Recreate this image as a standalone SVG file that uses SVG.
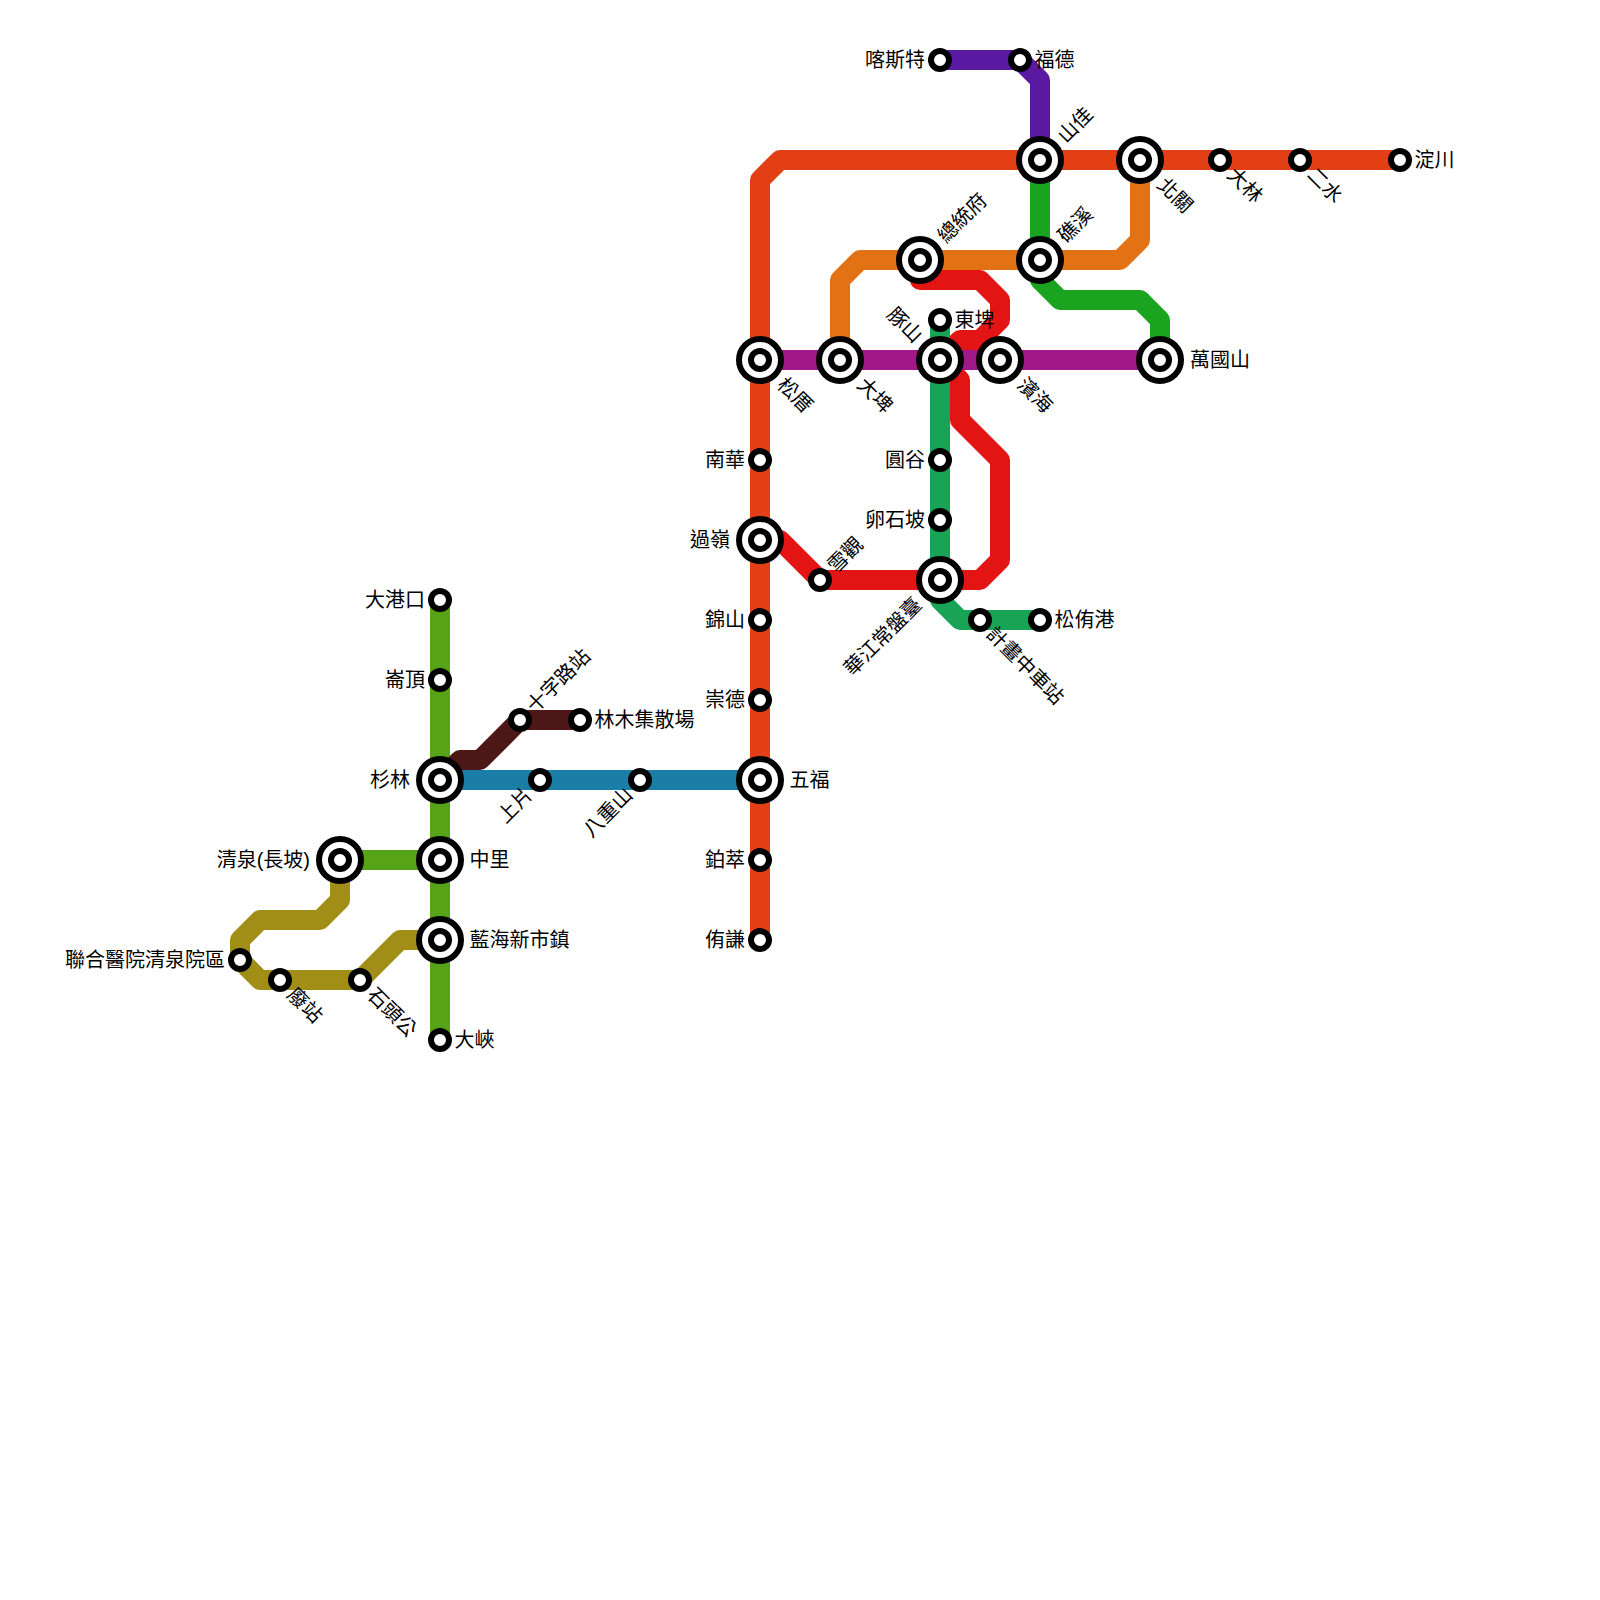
<svg xmlns="http://www.w3.org/2000/svg" width="1600" height="1600" viewBox="0 0 1600 1600">
<style>
.l{fill:none;stroke-width:20;stroke-linejoin:round;stroke-linecap:butt}
.o{fill:#fff;stroke:#000;stroke-width:6}
text{font-family:"Liberation Sans","Noto Sans CJK TC",sans-serif;font-size:20px;fill:#000;dominant-baseline:central}
.e{text-anchor:end}
</style>
<defs>
<g id="s"><circle class="o" r="9"/></g>
<g id="x"><circle class="o" r="21"/><circle class="o" r="9"/></g>
</defs>
<rect width="1600" height="1600" fill="#fff"/>
<g id="connectors">
<path class="l" stroke="#e31414" d="M760 540H780L820 580H980L1000 560V460L960 420V380L940 360L960 340H980L1000 320V300L980 280H920V260"/>
<path class="l" stroke="#e37214" d="M1140 160V240L1120 260H860L840 280V360"/>
<path class="l" stroke="#19a31e" d="M1040 160V280L1060 300H1140L1160 320V360"/>
<path class="l" stroke="#5a19a1" d="M940 60H1020L1040 80V160"/>
<path class="l" stroke="#e23f14" d="M1400 160H780L760 180V940"/>
<path class="l" stroke="#a01888" d="M760 360H1160"/>
<path class="l" stroke="#19a356" d="M940 320V600L960 620H1040"/>
<path class="l" stroke="#a18e17" d="M340 860V900L320 920H260L240 940V960L260 980H360L400 940H440"/>
<path class="l" stroke="#56a317" d="M440 600V1040M340 860H440"/>
<path class="l" stroke="#4d1717" d="M440 780L460 760H480L520 720H580"/>
<path class="l" stroke="#1a7ea6" d="M440 780H760"/>
</g>
<g id="n1"><use href="#s" x="940" y="60"/><text class="e" x="925" y="60">喀斯特</text></g>
<g id="n2"><use href="#s" x="1020" y="60"/><text x="1034.5" y="60">福德</text></g>
<g id="n3"><use href="#x" x="1040" y="160"/><text transform="translate(1061 139) rotate(-45)">山佳</text></g>
<g id="n4"><use href="#x" x="1140" y="160"/><text transform="translate(1161 181) rotate(45)">北關</text></g>
<g id="n5"><use href="#s" x="1220" y="160"/><text transform="translate(1231 171) rotate(45)">大林</text></g>
<g id="n6"><use href="#s" x="1300" y="160"/><text transform="translate(1311 171) rotate(45)">二水</text></g>
<g id="n7"><use href="#s" x="1400" y="160"/><text x="1414.5" y="160">淀川</text></g>
<g id="n8"><use href="#x" x="920" y="260"/><text transform="translate(941 239) rotate(-45)">總統府</text></g>
<g id="n9"><use href="#x" x="1040" y="260"/><text transform="translate(1061 239) rotate(-45)">礁溪</text></g>
<g id="n10"><use href="#s" x="940" y="320"/><text x="954.5" y="320">東埤</text></g>
<g id="n11"><use href="#x" x="760" y="360"/><text transform="translate(781 381) rotate(45)">松厝</text></g>
<g id="n12"><use href="#x" x="840" y="360"/><text transform="translate(861 381) rotate(45)">大埤</text></g>
<g id="n13"><use href="#x" x="940" y="360"/><text class="e" transform="translate(919 339) rotate(45)">豚山</text></g>
<g id="n14"><use href="#x" x="1000" y="360"/><text transform="translate(1021 381) rotate(45)">濱海</text></g>
<g id="n15"><use href="#x" x="1160" y="360"/><text x="1190" y="360">萬國山</text></g>
<g id="n16"><use href="#s" x="760" y="460"/><text class="e" x="745" y="460">南華</text></g>
<g id="n17"><use href="#x" x="760" y="540"/><text class="e" x="730" y="540">過嶺</text></g>
<g id="n18"><use href="#s" x="760" y="620"/><text class="e" x="745" y="620">錦山</text></g>
<g id="n19"><use href="#s" x="760" y="700"/><text class="e" x="745" y="700">崇德</text></g>
<g id="n20"><use href="#x" x="760" y="780"/><text x="789.5" y="780">五福</text></g>
<g id="n21"><use href="#s" x="760" y="860"/><text class="e" x="745" y="860">鉑萃</text></g>
<g id="n22"><use href="#s" x="760" y="940"/><text class="e" x="745" y="940">侑謙</text></g>
<g id="n23"><use href="#s" x="940" y="460"/><text class="e" x="925" y="460">圓谷</text></g>
<g id="n24"><use href="#s" x="940" y="520"/><text class="e" x="925" y="520">卵石坡</text></g>
<g id="n25"><use href="#x" x="940" y="580"/><text class="e" transform="translate(918 601) rotate(-45)">華江常盤臺</text></g>
<g id="n26"><use href="#s" x="980" y="620"/><text transform="translate(990 630) rotate(45)">計畫中車站</text></g>
<g id="n27"><use href="#s" x="1040" y="620"/><text x="1054.5" y="620">松侑港</text></g>
<g id="n28"><use href="#s" x="820" y="580"/><text transform="translate(831 569) rotate(-45)">雪觀</text></g>
<g id="n29"><use href="#s" x="440" y="600"/><text class="e" x="425" y="600">大港口</text></g>
<g id="n30"><use href="#s" x="440" y="680"/><text class="e" x="425" y="680">崙頂</text></g>
<g id="n31"><use href="#x" x="440" y="780"/><text class="e" x="410" y="780">杉林</text></g>
<g id="n32"><use href="#x" x="440" y="860"/><text x="469.5" y="860">中里</text></g>
<g id="n33"><use href="#x" x="440" y="940"/><text x="469.5" y="940">藍海新市鎮</text></g>
<g id="n34"><use href="#s" x="440" y="1040"/><text x="454.5" y="1040">大峽</text></g>
<g id="n35"><use href="#s" x="520" y="720"/><text transform="translate(530 709) rotate(-45)">十字路站</text></g>
<g id="n36"><use href="#s" x="580" y="720"/><text x="594.5" y="720">林木集散場</text></g>
<g id="n37"><use href="#s" x="540" y="780"/><text class="e" transform="translate(529 791) rotate(-45)">上片</text></g>
<g id="n38"><use href="#s" x="640" y="780"/><text class="e" transform="translate(629 791) rotate(-45)">八重山</text></g>
<g id="n39"><use href="#x" x="340" y="860"/><text class="e" x="310" y="860">清泉(長坡)</text></g>
<g id="n40"><use href="#s" x="240" y="960"/><text class="e" x="225" y="960">聯合醫院清泉院區</text></g>
<g id="n41"><use href="#s" x="280" y="980"/><text transform="translate(291 991) rotate(45)">廢站</text></g>
<g id="n42"><use href="#s" x="360" y="980"/><text transform="translate(371 991) rotate(45)">石頭公</text></g>
</svg>
